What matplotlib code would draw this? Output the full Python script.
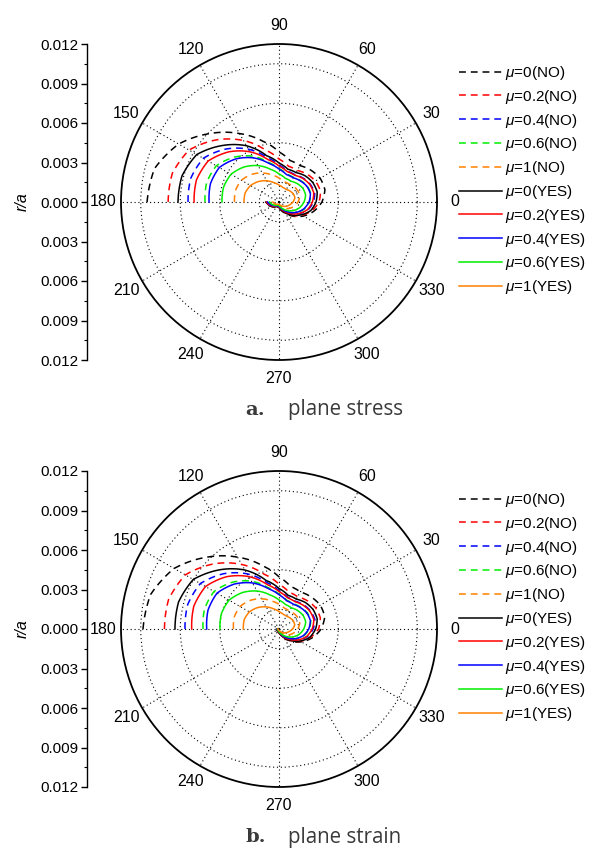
import numpy as np
import matplotlib.pyplot as plt
from matplotlib.ticker import FixedLocator, FuncFormatter

plt.rcParams['font.family'] = ['Liberation Sans', 'DejaVu Sans']
plt.rcParams['mathtext.fontset'] = 'custom'
plt.rcParams['mathtext.it'] = 'Liberation Sans:italic'
plt.rcParams['mathtext.rm'] = 'Liberation Sans'

# polar angle of every sample (degrees)
theta_deg = [180, 165, 150, 135, 120, 105, 90, 75, 60, 45, 30, 15,
             0, -15, -30, -45, -60, -75, -90, -120, -150, -180]

# plastic zone radius r/a, in units of 1e-3 -- plane stress
stress_mu0_no = [10.02, 9.79, 8.80, 7.36, 6.00, 4.78, 3.80, 3.26, 3.19, 3.42, 3.61, 3.61,
                 3.26, 2.73, 2.13, 1.52, 0.99, 0.65, 0.42, 0.38, 0.68, 1.06]
stress_mu02_no = [8.42, 8.39, 7.89, 6.68, 5.39, 4.10, 3.26, 2.81, 2.77, 3.00, 3.19, 3.26,
                  3.04, 2.58, 2.01, 1.44, 0.95, 0.61, 0.42, 0.38, 0.65, 1.02]
stress_mu04_no = [6.91, 6.94, 6.64, 5.69, 4.63, 3.49, 2.81, 2.43, 2.39, 2.58, 2.73, 2.81,
                  2.62, 2.28, 1.78, 1.29, 0.83, 0.53, 0.38, 0.34, 0.61, 0.95]
stress_mu06_no = [5.62, 5.69, 5.50, 4.82, 4.02, 3.11, 2.54, 2.20, 2.16, 2.31, 2.47, 2.50,
                  2.31, 2.01, 1.59, 1.14, 0.76, 0.49, 0.34, 0.30, 0.53, 0.87]
stress_mu1_no = [3.38, 3.42, 3.30, 2.96, 2.54, 2.13, 1.82, 1.59, 1.56, 1.63, 1.67, 1.63,
                 1.44, 1.21, 0.95, 0.68, 0.46, 0.30, 0.23, 0.23, 0.38, 0.61]
stress_mu0_yes = [7.67, 7.63, 7.21, 6.07, 4.93, 3.64, 2.96, 2.58, 2.58, 2.81, 2.96, 3.00,
                  2.81, 2.50, 1.94, 1.40, 0.95, 0.61, 0.42, 0.38, 0.65, 0.99]
stress_mu02_yes = [6.45, 6.49, 6.22, 5.39, 4.40, 3.34, 2.73, 2.39, 2.35, 2.54, 2.69, 2.73,
                   2.54, 2.24, 1.75, 1.25, 0.83, 0.53, 0.38, 0.34, 0.61, 0.95]
stress_mu04_yes = [5.31, 5.39, 5.24, 4.63, 3.87, 3.04, 2.50, 2.16, 2.13, 2.28, 2.43, 2.47,
                   2.28, 1.97, 1.56, 1.10, 0.72, 0.46, 0.34, 0.30, 0.53, 0.87]
stress_mu06_yes = [4.33, 4.36, 4.21, 3.76, 3.19, 2.58, 2.13, 1.86, 1.82, 1.97, 2.09, 2.09,
                   1.90, 1.63, 1.29, 0.91, 0.61, 0.38, 0.27, 0.27, 0.46, 0.72]
stress_mu1_yes = [2.66, 2.66, 2.50, 2.20, 1.86, 1.52, 1.29, 1.14, 1.10, 1.18, 1.25, 1.25,
                  1.06, 0.83, 0.65, 0.46, 0.30, 0.23, 0.19, 0.19, 0.30, 0.46]

# plane strain
strain_mu0_no = [10.33, 10.10, 9.20, 7.72, 6.30, 5.00, 3.95, 3.35, 3.25, 3.45, 3.62, 3.60,
                 3.20, 2.60, 1.95, 1.30, 0.80, 0.45, 0.28, 0.20, 0.18, 0.20]
strain_mu02_no = [8.70, 8.68, 8.22, 7.00, 5.66, 4.30, 3.40, 2.90, 2.83, 3.04, 3.22, 3.25,
                  3.00, 2.48, 1.88, 1.25, 0.77, 0.43, 0.27, 0.19, 0.17, 0.19]
strain_mu04_no = [7.14, 7.18, 6.90, 5.94, 4.84, 3.65, 2.92, 2.50, 2.44, 2.62, 2.76, 2.82,
                  2.60, 2.22, 1.70, 1.14, 0.70, 0.40, 0.25, 0.17, 0.15, 0.17]
strain_mu06_no = [5.77, 5.86, 5.70, 5.02, 4.20, 3.25, 2.64, 2.26, 2.20, 2.34, 2.48, 2.50,
                  2.30, 1.96, 1.50, 1.00, 0.62, 0.35, 0.22, 0.15, 0.13, 0.15]
strain_mu1_no = [3.46, 3.52, 3.42, 3.08, 2.65, 2.20, 1.88, 1.63, 1.58, 1.64, 1.68, 1.63,
                 1.42, 1.16, 0.88, 0.58, 0.36, 0.22, 0.14, 0.10, 0.09, 0.10]
strain_mu0_yes = [7.90, 7.90, 7.52, 6.36, 5.17, 3.82, 3.08, 2.65, 2.62, 2.84, 2.98, 3.00,
                  2.78, 2.42, 1.84, 1.22, 0.75, 0.42, 0.26, 0.18, 0.16, 0.18]
strain_mu02_yes = [6.63, 6.70, 6.45, 5.62, 4.60, 3.49, 2.84, 2.46, 2.40, 2.57, 2.71, 2.74,
                   2.52, 2.18, 1.66, 1.10, 0.68, 0.38, 0.24, 0.16, 0.14, 0.16]
strain_mu04_yes = [5.49, 5.58, 5.44, 4.82, 4.04, 3.17, 2.60, 2.22, 2.17, 2.30, 2.44, 2.47,
                   2.26, 1.92, 1.46, 0.98, 0.60, 0.34, 0.22, 0.15, 0.13, 0.15]
strain_mu06_yes = [4.48, 4.53, 4.38, 3.92, 3.33, 2.68, 2.20, 1.92, 1.86, 1.99, 2.10, 2.10,
                   1.88, 1.58, 1.20, 0.80, 0.50, 0.30, 0.19, 0.13, 0.11, 0.12]
strain_mu1_yes = [2.71, 2.74, 2.60, 2.30, 1.94, 1.58, 1.33, 1.17, 1.12, 1.19, 1.25, 1.24,
                  1.03, 0.78, 0.58, 0.38, 0.24, 0.15, 0.10, 0.08, 0.07, 0.08]

labels = [r'$\mu$=0(NO)', r'$\mu$=0.2(NO)', r'$\mu$=0.4(NO)', r'$\mu$=0.6(NO)', r'$\mu$=1(NO)',
          r'$\mu$=0(YES)', r'$\mu$=0.2(YES)', r'$\mu$=0.4(YES)', r'$\mu$=0.6(YES)', r'$\mu$=1(YES)']
colors = ['black', '#ff0000', '#0000ff', '#00ee00', '#ff8000'] * 2
styles = ['--'] * 5 + ['-'] * 5

stress_curves = [stress_mu0_no, stress_mu02_no, stress_mu04_no, stress_mu06_no, stress_mu1_no,
                 stress_mu0_yes, stress_mu02_yes, stress_mu04_yes, stress_mu06_yes, stress_mu1_yes]
strain_curves = [strain_mu0_no, strain_mu02_no, strain_mu04_no, strain_mu06_no, strain_mu1_no,
                 strain_mu0_yes, strain_mu02_yes, strain_mu04_yes, strain_mu06_yes, strain_mu1_yes]

r_ticks = [-0.012, -0.009, -0.006, -0.003, 0.0, 0.003, 0.006, 0.009, 0.012]
ring_r = [0.0015, 0.0045, 0.0075, 0.0105]
angle_ticks = [0, 30, 60, 90, 120, 150, 180, 210, 240, 270, 300, 330]

W, H = 597, 848
fig = plt.figure(figsize=(W / 100, H / 100), dpi=100)


def panel(top_px, curves, letter, caption, cap_y):
    x0, size = 121, 316
    rect = [x0 / W, 1 - (top_px + size) / H, size / W, size / H]

    # r/a scale on the left
    la = fig.add_axes([87 / W, rect[1], 0.01, rect[3]])
    la.patch.set_visible(False)
    for s in ['top', 'right', 'bottom']:
        la.spines[s].set_visible(False)
    la.spines['left'].set_linewidth(1.0)
    la.set_xticks([])
    la.set_ylim(-0.012, 0.012)
    la.yaxis.set_major_locator(FixedLocator(r_ticks))
    la.yaxis.set_minor_locator(FixedLocator(np.arange(-0.0105, 0.011, 0.003)))
    la.yaxis.set_major_formatter(FuncFormatter(lambda v, p: '%.3f' % abs(v)))
    la.tick_params(axis='y', which='major', direction='out', length=4, width=1.0,
                   labelsize=11, pad=2)
    la.tick_params(axis='y', which='minor', direction='out', length=2.5, width=0.8)
    fig.text(22 / W, rect[1] + rect[3] / 2, 'r/a', rotation=90, style='italic',
             fontsize=11.5, ha='center', va='center')

    ax = fig.add_axes(rect, projection='polar')
    th = np.radians(theta_deg)
    for vals, c, ls, lab in zip(curves, colors, styles, labels):
        r = np.array(vals) * 1e-3
        if ls == '--':
            ln, = ax.plot(th, r, color=c, lw=1.1, linestyle=(0, (4.5, 3.2)), label=lab)
        else:
            ln, = ax.plot(th, r, color=c, lw=1.1, label=lab)
        # draw each segment as a polar arc instead of a straight chord
        ln.get_path()._interpolation_steps = 30

    ax.set_ylim(0, 0.012)
    ax.set_yticks(ring_r)
    ax.set_yticklabels([])
    ax.set_xticks(np.radians(angle_ticks))
    ax.set_xticklabels([str(a) for a in angle_ticks], fontsize=11.5)
    ax.set_xticks(np.radians(np.arange(15, 360, 30)), minor=True)
    ax.tick_params(axis='x', which='both', direction='in', length=5, width=1.0, pad=6)
    ax.grid(True, color='black', linestyle=(0, (1, 2.5)), linewidth=0.8)
    ax.spines['polar'].set_linewidth(1.3)

    handles, labs = ax.get_legend_handles_labels()
    fig.legend(handles, labs, loc='upper left',
               bbox_to_anchor=(459 / W, 1 - (top_px + 20) / H),
               frameon=False, fontsize=11, handlelength=2.8, handletextpad=0.2,
               labelspacing=0.38, borderpad=0, borderaxespad=0)

    fig.text(245 / W, 1 - cap_y / H, letter, fontsize=14, fontweight='bold',
             family='DejaVu Serif', color='#3a3a3a', ha='left', va='center')
    fig.text(288 / W, 1 - cap_y / H, caption, fontsize=14.8, family='Open Sans',
             color='#3a3a3a', ha='left', va='center')


panel(44, stress_curves, 'a.', 'plane stress', 410)
panel(471, strain_curves, 'b.', 'plane strain', 837)

fig.savefig('out.png', dpi=100)
